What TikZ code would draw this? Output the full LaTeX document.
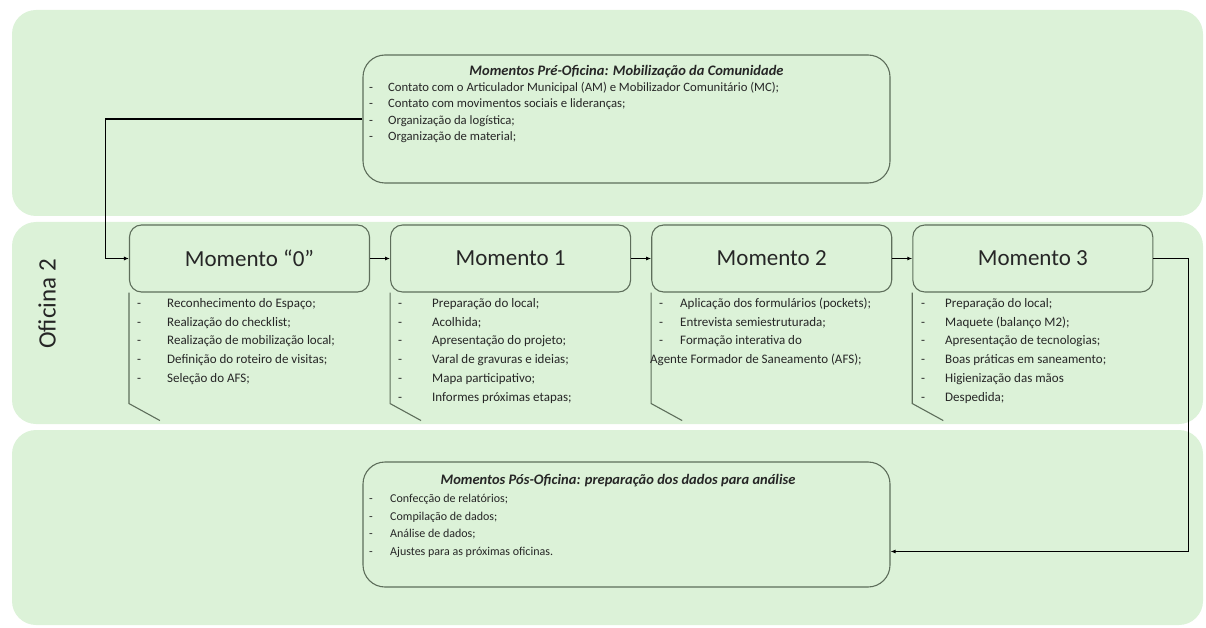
\documentclass[tikz,border=0pt]{standalone}
\usepackage{fontspec}
\setmainfont{Carlito}
\usepackage{xcolor}
\definecolor{ofgreen}{HTML}{DCF2D8}
\definecolor{ofline}{HTML}{5E6E5B}
\definecolor{ofdark}{HTML}{262626}
\usetikzlibrary{arrows.meta,positioning}
\newcommand{\ofsz}[2]{\fontsize{#1}{#2}\selectfont}

\begin{document}
\begin{tikzpicture}[x=1pt,y=-1pt,>={Latex[length=5pt,width=4pt]},node distance=20pt]
\tikzset{
 band/.style={fill=ofgreen,draw=none,rounded corners=24pt},
 mom/.style={draw=ofline,line width=1.1pt,fill=ofgreen,rounded corners=12pt,minimum width=240pt,minimum height=67pt,font=\ofsz{23}{27},text=ofdark},
 big/.style={draw=ofline,line width=1.1pt,fill=ofgreen,rounded corners=22pt,minimum width=527pt},
 lst/.style={anchor=north west,inner sep=0pt,align=left,text=ofdark},
 hd/.style={font=\ofsz{14.5}{16}\bfseries\itshape,text=ofdark,inner sep=0pt},
 a/.style={->,line width=1.3pt,draw=black}
}
\useasboundingbox (0,0) rectangle (1206,628);
% faixas de fundo
\fill[band] (12,10) rectangle (1203,216);
\fill[band] (12,222) rectangle (1203,424);
\fill[band] (12,430) rectangle (1203,625);
\node[rotate=90,font=\ofsz{25}{28},text=ofdark] (ofic) at (47,304) {Oficina 2};

% momentos
\node[mom] (m0) at (249.5,258.5) {Momento ``0''};
\node[mom,right=of m0] (m1) {Momento 1};
\node[mom,right=of m1] (m2) {Momento 2};
\node[mom,right=of m2] (m3) {Momento 3};
\foreach \m in {m0,m1,m2,m3}
  \draw[ofline,line width=1.1pt] (\m.south west) -- ++(0,111) -- ++(31,17);

% pre e pos oficina
\node[big,minimum height=128pt] (pre) at (626.5,119) {};
\node[big,minimum height=125pt] (pos) at (626.5,524.5) {};
\node[hd] (preh) at (626.5,72) {Momentos Pré-Oficina: Mobilização da Comunidade};
\node[hd] (posh) at (618,481) {Momentos Pós-Oficina: preparação dos dados para análise};

\node[lst,font=\ofsz{12.7}{16.3}] (prel) at (369,80) {\begin{tabular}{@{}p{19pt}@{}l@{}}
- & Contato com o Articulador Municipal (AM) e Mobilizador Comunitário (MC);\\
- & Contato com movimentos sociais e lideranças;\\
- & Organização da logística;\\
- & Organização de material;
\end{tabular}};
\node[lst,font=\ofsz{12}{17.7}] (posl) at (369,490) {\begin{tabular}{@{}p{21pt}@{}l@{}}
- & Confecção de relatórios;\\
- & Compilação de dados;\\
- & Análise de dados;\\
- & Ajustes para as próximas oficinas.
\end{tabular}};

% listas dos momentos
\node[lst,font=\ofsz{13}{18.8}] (l0) at (137,294) {\begin{tabular}{@{}p{30pt}@{}l@{}}
- & Reconhecimento do Espaço;\\
- & Realização do checklist;\\
- & Realização de mobilização local;\\
- & Definição do roteiro de visitas;\\
- & Seleção do AFS;
\end{tabular}};
\node[lst,font=\ofsz{13}{18.8}] (l1) at (398,294) {\begin{tabular}{@{}p{34pt}@{}l@{}}
- & Preparação do local;\\
- & Acolhida;\\
- & Apresentação do projeto;\\
- & Varal de gravuras e ideias;\\
- & Mapa participativo;\\
- & Informes próximas etapas;
\end{tabular}};
\node[lst,font=\ofsz{13}{18.8}] (l2) at (650,294) {\begin{tabular}{@{}p{30pt}@{}l@{}}
\hspace{9pt}- & Aplicação dos formulários (pockets);\\
\hspace{9pt}- & Entrevista semiestruturada;\\
\hspace{9pt}- & Formação interativa do\\
\multicolumn{2}{@{}l@{}}{Agente Formador de Saneamento (AFS);}
\end{tabular}};
\node[lst,font=\ofsz{13}{18.8}] (l3) at (921,294) {\begin{tabular}{@{}p{24pt}@{}l@{}}
- & Preparação do local;\\
- & Maquete (balanço M2);\\
- & Apresentação de tecnologias;\\
- & Boas práticas em saneamento;\\
- & Higienização das mãos\\
- & Despedida;
\end{tabular}};

% conectores
\draw[a] (pre.west) -- ++(-257,0) |- (m0.west);
\draw[a] (m0) -- (m1);
\draw[a] (m1) -- (m2);
\draw[a] (m2) -- (m3);
\draw[a] (m3.east) -- ++(35,0) |- ([yshift=-27pt]pos.east);
\end{tikzpicture}
\end{document}
